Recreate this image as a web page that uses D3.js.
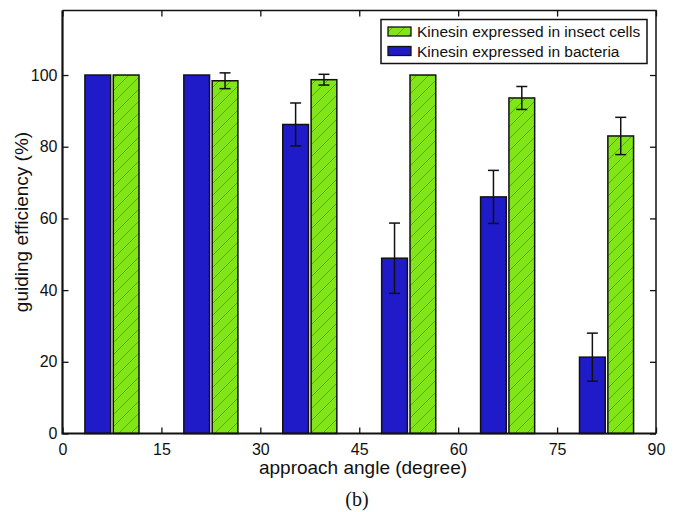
<!DOCTYPE html>
<html>
<head>
<meta charset="utf-8">
<script src="https://cdn.jsdelivr.net/npm/d3@7"></script>
<style>
  html, body { margin: 0; padding: 0; background: #fff; }
  svg { display: block; font-family: "Liberation Sans", Arial, Helvetica, sans-serif; }
</style>
</head>
<body>
<svg id="chart" width="679" height="512"></svg>
<script>
// ---- data ----
const groupCenters = [7.5, 22.5, 37.5, 52.5, 67.5, 82.5]; // approach angle (degree)
const bacteria     = [100, 100, 86.2, 48.9, 66.0, 21.3];
const bacteriaErr  = [0, 0, 6.0, 9.8, 7.4, 6.7];
const insect       = [100, 98.4, 98.7, 100, 93.6, 83.0];
const insectErr    = [0, 2.2, 1.5, 0, 3.2, 5.2];
const xTicks = [0, 15, 30, 45, 60, 75, 90];
const yTicks = [0, 20, 40, 60, 80, 100];
const seriesNames = ["Kinesin expressed in insect cells", "Kinesin expressed in bacteria"];
const xTitle = "approach angle (degree)";
const yTitle = "guiding efficiency (%)";
const caption = "(b)";

// ---- layout ----
const svg = d3.select("#chart");
const L = 62.5, R = 656, T = 10.5, B = 433.5;
const x = d3.scaleLinear().domain([0, 90]).range([L, R]);
const y = d3.scaleLinear().domain([0, 118]).range([B, T]);
const blue = "#1f1bc9", green = "#80e61a";
const barW = 3.9, gap = 0.2;

const defs = svg.append("defs");
const pat = defs.append("pattern").attr("id", "hatch")
  .attr("patternUnits", "userSpaceOnUse").attr("width", 12).attr("height", 12);
pat.append("rect").attr("width", 12).attr("height", 12).attr("fill", green);
pat.append("path").attr("d", "M-3,3 L3,-3 M0,12 L12,0 M9,15 L15,9")
  .attr("stroke", "#5e9a2a").attr("stroke-width", 0.9);

// bars
const data = groupCenters.map((c, i) => ({c, b: bacteria[i], be: bacteriaErr[i], g: insect[i], ge: insectErr[i]}));

svg.append("g").selectAll("rect").data(data).join("rect")
  .attr("x", d => x(d.c - gap - barW)).attr("width", d => x(barW) - x(0))
  .attr("y", d => y(d.b)).attr("height", d => y(0) - y(d.b))
  .attr("fill", blue).attr("stroke", "#111").attr("stroke-width", 1.5);

svg.append("g").selectAll("rect").data(data).join("rect")
  .attr("x", d => x(d.c + gap)).attr("width", d => x(barW) - x(0))
  .attr("y", d => y(d.g)).attr("height", d => y(0) - y(d.g))
  .attr("fill", "url(#hatch)").attr("stroke", "#111").attr("stroke-width", 1.5);

// error bars
function errBars(cx, val, err) {
  const g = svg.append("g").attr("stroke", "#111").attr("stroke-width", 1.5).attr("fill", "none");
  data.forEach((d, i) => {
    const e = err(d); if (!e) return;
    const xc = x(cx(d)), v = val(d);
    g.append("line").attr("x1", xc).attr("x2", xc).attr("y1", y(v - e)).attr("y2", y(v + e));
    g.append("line").attr("x1", xc - 5.5).attr("x2", xc + 5.5).attr("y1", y(v + e)).attr("y2", y(v + e));
    g.append("line").attr("x1", xc - 5.5).attr("x2", xc + 5.5).attr("y1", y(v - e)).attr("y2", y(v - e));
  });
}
errBars(d => d.c - gap - barW / 2, d => d.b, d => d.be);
errBars(d => d.c + gap + barW / 2, d => d.g, d => d.ge);

// axes (ticks inward on all four sides)
const fs = "16px";
const axB = svg.append("g").attr("transform", `translate(0,${B})`)
  .call(d3.axisBottom(x).tickValues(xTicks).tickSize(-6).tickPadding(10).tickSizeOuter(0));
const axT = svg.append("g").attr("transform", `translate(0,${T})`)
  .call(d3.axisTop(x).tickValues(xTicks).tickSize(-6).tickFormat("").tickSizeOuter(0));
const axL = svg.append("g").attr("transform", `translate(${L},0)`)
  .call(d3.axisLeft(y).tickValues(yTicks).tickSize(-6).tickPadding(5).tickSizeOuter(0));
const axR = svg.append("g").attr("transform", `translate(${R},0)`)
  .call(d3.axisRight(y).tickValues(yTicks).tickSize(-6).tickFormat("").tickSizeOuter(0));
[axB, axT, axL, axR].forEach(a => {
  a.selectAll("text").attr("font-size", fs).attr("fill", "#111").attr("font-family", "Liberation Sans, Arial, sans-serif");
  a.selectAll("line").attr("stroke", "#111").attr("stroke-width", 1.3);
  a.select(".domain").remove();
});
// frame
svg.append("path")
  .attr("d", `M${L},${T}H${R}V${B}`).attr("fill", "none").attr("stroke", "#111").attr("stroke-width", 1.5);
svg.append("path")
  .attr("d", `M${L},${T}V${B}H${R}`).attr("fill", "none").attr("stroke", "#111").attr("stroke-width", 2.2);

// titles
svg.append("text").attr("x", 363).attr("y", 474).attr("text-anchor", "middle")
  .attr("font-size", "19px").attr("fill", "#111").text(xTitle);
svg.append("text").attr("transform", `translate(28,${(T + B) / 2}) rotate(-90)`).attr("text-anchor", "middle")
  .attr("font-size", "19px").attr("fill", "#111").text(yTitle);
svg.append("text").attr("x", 357).attr("y", 506).attr("text-anchor", "middle")
  .attr("font-family", "Liberation Serif, Times New Roman, serif").attr("font-size", "20px").attr("fill", "#111").text(caption);

// legend
const lg = svg.append("g");
lg.append("rect").attr("x", 381).attr("y", 19.5).attr("width", 266).attr("height", 44)
  .attr("fill", "#fff").attr("stroke", "#111").attr("stroke-width", 1.5);
const fills = ["url(#hatch)", blue];
seriesNames.forEach((n, i) => {
  const yy = 27 + i * 19.5;
  lg.append("rect").attr("x", 388).attr("y", yy).attr("width", 23).attr("height", 9)
    .attr("fill", fills[i]).attr("stroke", "#111").attr("stroke-width", 1.3);
  lg.append("text").attr("x", 417).attr("y", yy + 10).attr("font-size", "15.5px").attr("fill", "#111").text(n);
});
</script>
</body>
</html>
